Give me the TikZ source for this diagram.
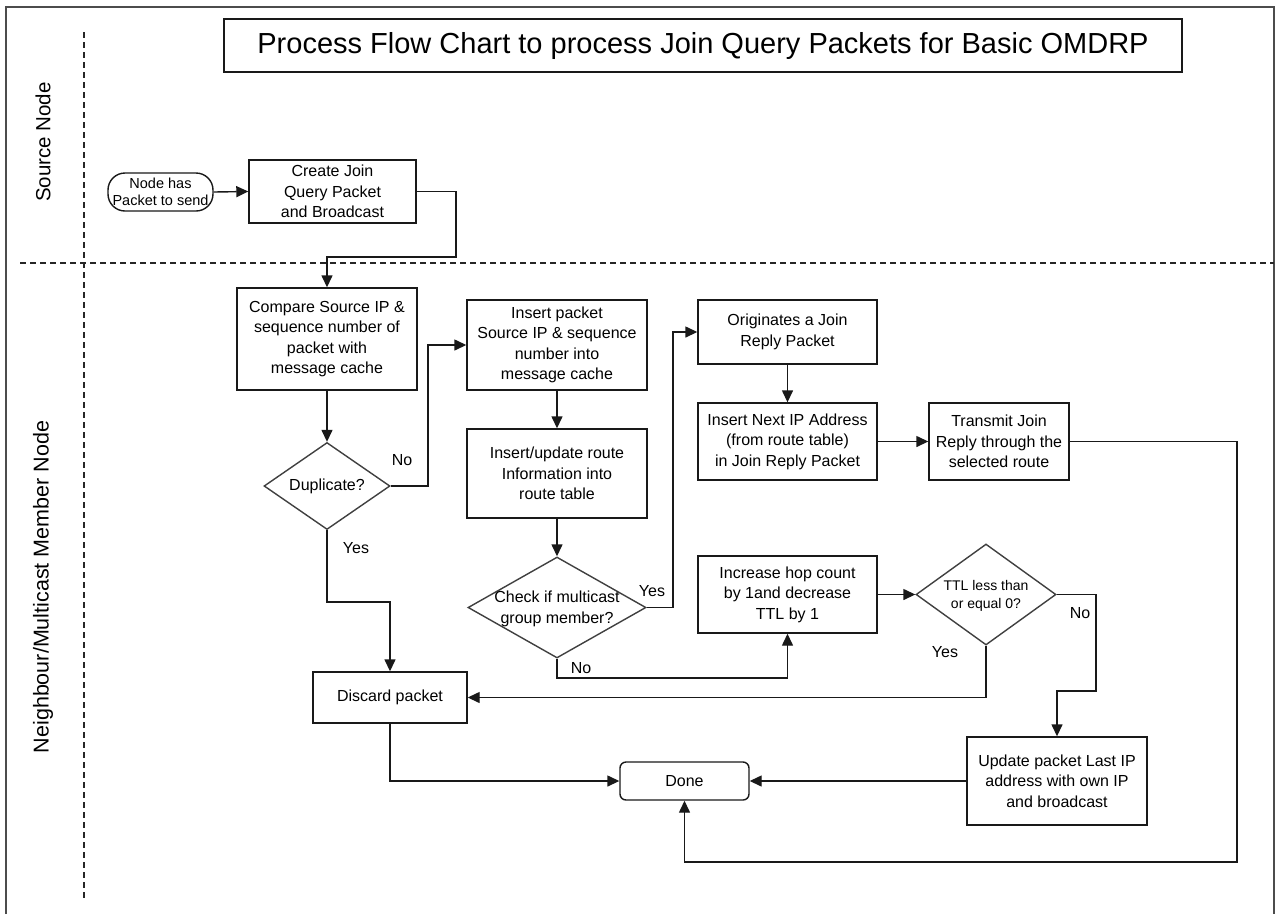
\documentclass[tikz,border=0pt]{standalone}
\usepackage{fontspec}
\setmainfont{Liberation Sans}
\usetikzlibrary{arrows.meta,shapes.geometric}
\begin{document}
\begin{tikzpicture}[x=1pt,y=-1pt,
 ln/.style={line width=1.4pt, draw=black!90},
 arr/.style={ln,-{Triangle[length=12pt,width=11pt]}},
 box/.style={draw=black!90,line width=1.4pt,rectangle,align=center,inner sep=1pt,font=\fontsize{16}{20.5}\selectfont},
 dia/.style={draw=black!75,line width=1.4pt,diamond,inner sep=0pt},
 txt/.style={align=center,font=\fontsize{16}{20.5}\selectfont,inner sep=0pt},
 lbl/.style={font=\fontsize{16}{19}\selectfont,inner sep=0pt},
 dsh/.style={line width=1.3pt,dash pattern=on 6pt off 4pt,draw=black!85}]

\useasboundingbox (0,0) rectangle (1280,914);
\fill[white] (0,0) rectangle (1280,914);

% frame and swimlanes
\draw[line width=1.5pt,draw=black!70] (6,914) -- (6,7) -- (1274,7) -- (1274,914);
\draw[dsh] (84,32) -- (84,900);
\draw[dsh] (20,263) -- (1274,263);

\node[rotate=90,font=\fontsize{20.5}{24}\selectfont] (srclane) at (43,142) {Source Node};
\node[rotate=90,font=\fontsize{21.5}{24}\selectfont] (nblane) at (43,587) {Neighbour/Multicast Member Node};

% title
\node[draw=black!90,line width=1.4pt,minimum width=958pt,minimum height=53pt,font=\fontsize{29}{32}\selectfont] (title) at (703,45.5) {Process Flow Chart to process Join Query Packets for Basic OMDRP};

% nodes
\node[box,rounded corners=17pt,minimum width=105pt,minimum height=38pt,font=\fontsize{14.5}{17}\selectfont] (start) at (160.5,192) {Node has\\Packet to send};
\node[box,minimum width=167pt,minimum height=63pt] (create) at (332.5,191.5) {Create Join\\Query Packet\\and Broadcast};
\node[box,minimum width=180pt,minimum height=102pt] (compare) at (327,339) {Compare Source IP \&\\sequence number of\\packet with\\message cache};
\node[dia,minimum width=126pt,minimum height=87pt] (dup) at (327,486) {};
\node[txt] (dupt) at (327,486) {Duplicate?};
\node[box,minimum width=180pt,minimum height=90pt] (insert) at (557,345) {Insert packet\\Source IP \& sequence\\number into\\message cache};
\node[box,minimum width=180pt,minimum height=89pt] (route) at (557,473.5) {Insert/update route\\Information into\\route table};
\node[dia,minimum width=178pt,minimum height=101pt] (check) at (557,607.5) {};
\node[txt] (checkt) at (557,609) {Check if multicast\\group member?};
\node[box,minimum width=179pt,minimum height=64pt] (orig) at (787.5,332) {Originates a Join\\Reply Packet};
\node[box,minimum width=179pt,minimum height=77pt] (next) at (787.5,441.5) {Insert Next IP Address\\(from route table)\\in Join Reply Packet};
\node[box,minimum width=140pt,minimum height=77pt] (trans) at (999,441.5) {Transmit Join\\Reply through the\\selected route};
\node[box,minimum width=179pt,minimum height=77pt] (incr) at (787.5,594.5) {Increase hop count\\by 1and decrease\\TTL by 1};
\node[dia,minimum width=140pt,minimum height=101pt] (ttl) at (986,594.5) {};
\node[txt,font=\fontsize{14}{18}\selectfont] (ttlt) at (986,596) {TTL less than\\or equal 0?};
\node[box,minimum width=154pt,minimum height=51pt] (discard) at (390,697.5) {Discard packet};
\node[box,rounded corners=6pt,minimum width=129pt,minimum height=38pt] (done) at (684.5,781) {Done};
\node[box,minimum width=180pt,minimum height=88pt] (update) at (1057,781) {Update packet Last IP\\address with own IP\\and broadcast};

% labels
\node[lbl] (l1) at (402,460) {No};
\node[lbl] (l2) at (356,548) {Yes};
\node[lbl] (l3) at (652,591) {Yes};
\node[lbl] (l4) at (581,668) {No};
\node[lbl] (l5) at (1080,613) {No};
\node[lbl] (l6) at (945,652) {Yes};

% connectors
\draw[arr] (start.east) -- (create.west);
\draw[arr] (create.east) -- (456,191.5) -- (456,257) -- (327,257) -- (compare.north);
\draw[arr] (compare.south) -- (dup.north);
\draw[arr] (dup.east) -- (428,486) -- (428,345) -- (insert.west);
\draw[arr] (insert.south) -- (route.north);
\draw[arr] (route.south) -- (check.north);
\draw[arr] (check.east) -- (673,607.5) -- (673,332) -- (orig.west);
\draw[arr] (orig.south) -- (next.north);
\draw[arr] (next.east) -- (trans.west);
\draw[arr] (trans.east) -- (1237,441.5) -- (1237,862) -- (684.5,862) -- (done.south);
\draw[arr] (dup.south) -- (327,602) -- (390,602) -- (discard.north);
\draw[arr] (check.south) -- (557,678) -- (787.5,678) -- (incr.south);
\draw[arr] (incr.east) -- (ttl.west);
\draw[arr] (ttl.south) -- (986,697.5) -- (discard.east);
\draw[arr] (ttl.east) -- (1096,594.5) -- (1096,691) -- (1057,691) -- (update.north);
\draw[arr] (update.west) -- (done.east);
\draw[arr] (discard.south) -- (390,781) -- (done.west);
\end{tikzpicture}
\end{document}
